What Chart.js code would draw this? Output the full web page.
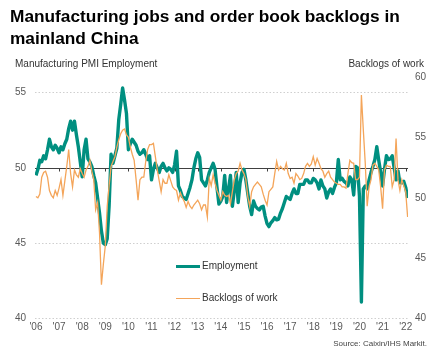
<!DOCTYPE html>
<html>
<head>
<meta charset="utf-8">
<script src="https://cdn.jsdelivr.net/npm/chart.js@4"></script>
<style>
  html, body { margin: 0; padding: 0; background: #fff; }
  body { width: 436px; height: 357px; position: relative; overflow: hidden; font-family: "Liberation Sans", Arial, sans-serif; }
  canvas { position: absolute; left: 0; top: 0; }
  .t { position: absolute; white-space: nowrap; }
  #title { left: 10px; top: 5px; font-size: 17.3px; font-weight: bold; color: #000; line-height: 22px; }
  #ltitle { left: 15px; top: 58px; font-size: 10px; color: #333; }
  #rtitle { right: 12px; top: 58px; font-size: 10px; color: #333; }
  #source { right: 9px; top: 339px; font-size: 8px; color: #444; }
  .leg { position: absolute; font-size: 10px; color: #333; }
  .sw { position: absolute; }
</style>
</head>
<body>
<canvas id="c" width="436" height="357"></canvas>
<div class="t" id="title">Manufacturing jobs and order book backlogs in<br>mainland China</div>
<div class="t" id="ltitle">Manufacturing PMI Employment</div>
<div class="t" id="rtitle">Backlogs of work</div>
<div class="sw" style="left:176px;top:264.5px;width:24px;height:3.4px;background:#008f80;"></div>
<div class="leg" style="left:202px;top:260px;">Employment</div>
<div class="sw" style="left:176px;top:297.5px;width:24px;height:1.3px;background:#f4a55a;"></div>
<div class="leg" style="left:202px;top:292px;">Backlogs of work</div>
<div class="t" id="source">Source: Caixin/IHS Markit.</div>
<script>
// Monthly data, Jan 2006 .. Feb 2022
const employment = [
  49.5, 49.9, 50.5, 50.4, 50.8, 50.6, 51.2, 51.9, 51.4, 51.2, 51.5, 51.3,
  51.0, 51.4, 51.2, 51.6, 51.9, 52.6, 53.1, 52.5, 53.1, 52.2, 51.4, 50.4,
  49.4, 51.2, 51.9, 50.6, 50.4, 50.1, 49.5, 49.0, 48.0, 47.0, 45.8, 45.0,
  44.9, 45.3, 47.5, 50.9, 50.3, 50.8, 51.3, 53.2, 54.2, 55.3, 54.5, 53.6,
  51.2, 51.6, 51.9, 51.7, 51.5, 51.1, 50.9, 51.0, 51.2, 50.9, 50.55, 50.8,
  49.2, 49.9, 50.3, 50.0, 49.7, 50.1, 50.3, 50.0, 49.8, 50.0, 49.9, 49.7,
  50.2, 51.1, 48.8, 48.5, 48.1, 48.0, 47.9, 48.3, 48.7, 49.2, 50.0, 50.6,
  51.0, 50.7, 49.2, 49.0, 48.8, 49.2, 49.7, 50.0, 50.3, 49.9, 48.7, 47.6,
  47.8, 48.1, 49.5, 47.7, 48.6, 49.5, 47.45, 48.5, 49.7, 47.7, 49.0, 49.7,
  49.9, 49.2, 48.3, 47.45, 46.9, 47.8, 47.45, 47.3, 47.2, 47.4, 47.45, 46.8,
  46.3, 46.1, 46.35, 46.5, 46.7, 46.55, 46.6, 47.0, 47.3, 47.7, 48.1, 48.0,
  47.9, 48.3, 48.6, 48.3, 48.3, 48.9, 48.9, 48.9, 49.2, 49.2, 49.0, 49.0,
  49.3, 49.2, 49.0, 48.6, 49.2, 48.8, 48.6, 48.0, 48.4, 48.6, 48.3, 48.7,
  49.0, 50.55, 49.2, 49.3, 49.1, 49.0, 48.8, 49.4, 49.2, 48.2, 50.1, 50.0,
  48.1, 41.1, 48.6, 48.8, 48.6, 49.2, 49.7, 50.1, 50.55, 51.4, 50.5, 49.7,
  48.8, 49.9, 50.8, 50.55, 50.6, 50.8, 50.0, 49.2, 49.8, 49.0, 49.0, 49.1,
  48.7, 48.0
];
const backlogs = [
  50.1, 50.0, 50.3, 51.7, 52.1, 52.2, 51.7, 50.6, 50.2, 50.0, 50.6, 50.2,
  50.8, 51.5, 50.2, 51.4, 52.6, 54.0, 52.0, 50.9, 52.3, 51.9, 51.7, 52.4,
  52.0, 51.7, 52.3, 52.6, 53.1, 52.2, 51.5, 49.0, 49.6, 47.1, 42.8, 44.5,
  46.0, 49.3, 51.0, 52.6, 53.0, 53.4, 54.2, 54.8, 55.3, 55.6, 55.7, 55.2,
  55.0, 54.2, 53.6, 53.1, 51.5, 49.8, 51.5, 51.7, 51.7, 53.0, 54.0, 54.4,
  54.4, 54.5, 53.4, 52.3, 51.4, 50.5, 51.5, 51.2, 51.2, 51.9, 51.4, 50.9,
  50.7, 50.6, 49.8, 50.4, 50.0, 49.7, 49.2, 49.7, 49.3, 49.1, 49.4, 49.6,
  49.8, 49.5, 49.0, 49.4, 49.4, 48.4, 51.6, 51.0, 51.9, 51.2, 50.6, 50.2,
  49.8, 50.5, 50.2, 50.1, 50.2, 49.5, 50.5, 51.5, 52.0, 52.2, 52.85, 52.3,
  52.0, 51.5, 50.1, 49.3, 50.5, 50.9, 51.1, 51.3, 51.1, 50.9, 50.3, 49.8,
  49.4, 50.5, 50.7, 50.9, 52.0, 53.0, 52.3, 52.6, 52.4, 52.3, 52.85, 52.0,
  51.6, 51.7, 51.2, 52.0, 51.8, 51.5, 51.6, 52.0, 52.6, 52.85, 52.6, 52.8,
  53.4, 52.7, 53.25, 52.85, 52.4, 52.2, 51.7, 52.0, 52.2, 51.7, 51.5, 51.3,
  51.2, 51.1, 51.1, 50.9, 50.9, 50.8, 52.0, 53.1, 52.9, 52.85, 51.5, 51.5,
  51.7, 58.5, 55.6, 52.85, 49.3, 50.9, 51.5, 52.7, 52.85, 52.6, 52.3, 50.9,
  49.1, 52.3, 52.7, 52.6, 52.6, 50.9, 51.5, 54.9, 51.5, 50.6, 51.5, 51.0,
  50.5, 48.4
];
const yearLabels = ["'06","'07","'08","'09","'10","'11","'12","'13","'14","'15","'16","'17","'18","'19","'20","'21","'22"];
const leftTicks = [40, 45, 50, 55];
const rightTicks = [40, 45, 50, 55, 60];
const refLine = 50;

const toXY = arr => arr.map((v, i) => ({ x: i, y: v }));
const yearTickValues = yearLabels.map((_, i) => i * 12);

const refPlugin = {
  id: 'refLine',
  beforeDatasetsDraw(chart) {
    const { ctx, chartArea, scales } = chart;
    const y = Math.round(scales.y.getPixelForValue(refLine)) + 0.5;
    ctx.save();
    ctx.strokeStyle = '#404040';
    ctx.lineWidth = 1;
    ctx.beginPath();
    ctx.moveTo(chartArea.left, y);
    ctx.lineTo(chartArea.right, y);
    yearTickValues.forEach(v => {
      const x = Math.round(scales.x.getPixelForValue(v)) + 0.5;
      ctx.moveTo(x, y);
      ctx.lineTo(x, y + 3);
    });
    ctx.stroke();
    ctx.restore();
  }
};

new Chart(document.getElementById('c'), {
  type: 'line',
  data: {
    datasets: [
      { label: 'Backlogs of work', data: toXY(backlogs), yAxisID: 'y1', borderColor: '#f4a55a', borderWidth: 1.3, pointRadius: 0, tension: 0, order: 0 },
      { label: 'Employment', data: toXY(employment), yAxisID: 'y', borderColor: '#008f80', borderWidth: 3.4, pointRadius: 0, tension: 0, order: 1, borderJoinStyle: 'round' }
    ]
  },
  options: {
    responsive: false,
    animation: false,
    layout: { padding: { top: 77, left: 0, right: 0, bottom: 0 } },
    plugins: { legend: { display: false }, tooltip: { enabled: false } },
    scales: {
      x: {
        type: 'linear',
        min: -0.5,
        max: 193.2,
        afterBuildTicks: s => { s.ticks = yearTickValues.map(v => ({ value: v })); },
        afterFit: s => { s.height = 38.5; },
        grid: { display: false, drawTicks: false },
        border: { display: false },
        ticks: {
          padding: 3,
          maxRotation: 0,
          autoSkip: false,
          color: '#595959',
          font: { family: 'Liberation Sans', size: 10 },
          callback: v => yearLabels[Math.round(v / 12)]
        }
      },
      y: {
        position: 'left',
        min: 40,
        max: 56.03,
        afterBuildTicks: s => { s.ticks = leftTicks.map(v => ({ value: v })); },
        afterFit: s => { s.width = 35; },
        grid: {
          drawTicks: false,
          color: c => (c.tick && c.tick.value === refLine) ? 'rgba(0,0,0,0)' : '#cfcfcf',
          lineWidth: 1
        },
        border: { display: false, dash: [1.5, 2] },
        ticks: { padding: 9, color: '#595959', font: { family: 'Liberation Sans', size: 10 } }
      },
      y1: {
        position: 'right',
        min: 40,
        max: 60,
        afterBuildTicks: s => { s.ticks = rightTicks.map(v => ({ value: v })); },
        afterFit: s => { s.width = 28; },
        grid: { display: false, drawTicks: false },
        border: { display: false },
        ticks: { padding: 7, color: '#595959', font: { family: 'Liberation Sans', size: 10 } }
      }
    }
  },
  plugins: [refPlugin]
});
</script>
</body>
</html>
